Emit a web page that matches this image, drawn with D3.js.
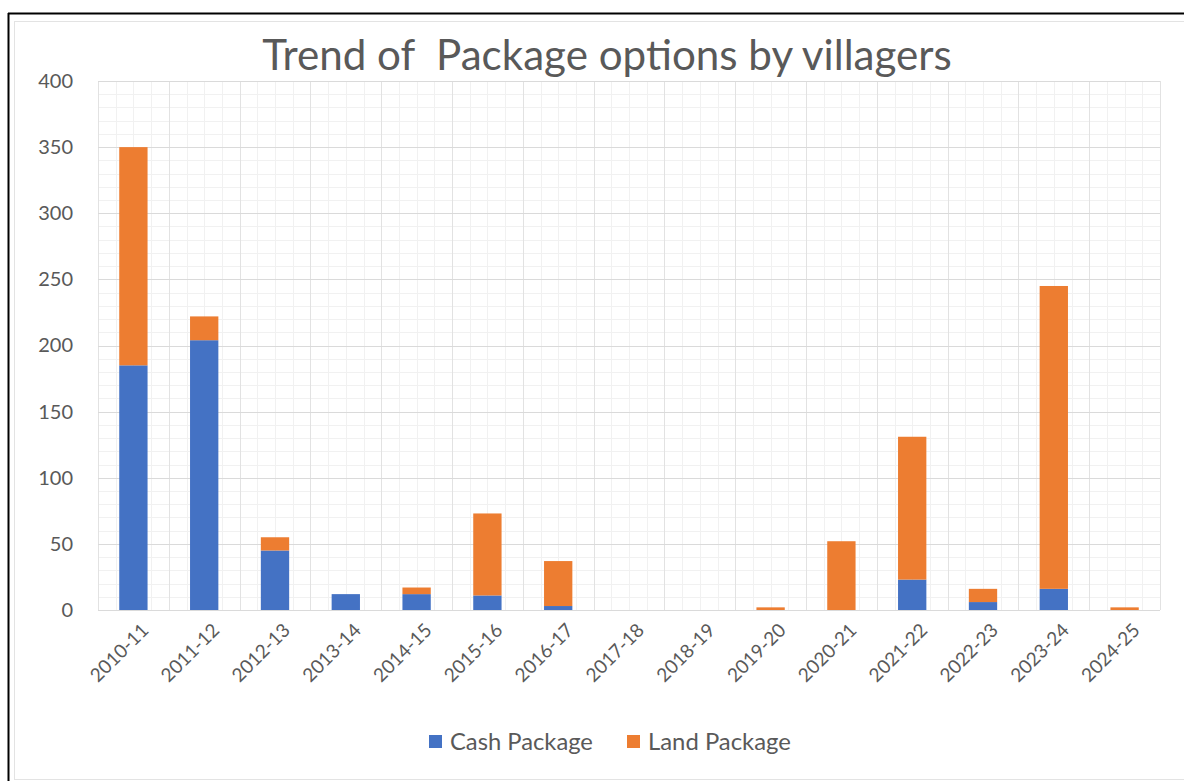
<!DOCTYPE html>
<html><head><meta charset="utf-8">
<script src="https://cdn.jsdelivr.net/npm/d3@7"></script>
<style>
html,body{margin:0;padding:0;background:#fff;}
svg{display:block;font-family:Lato,"Open Sans",sans-serif;}
</style></head>
<body>
<svg id="c" width="1184" height="781"></svg>
<script>
const categories = ["2010-11","2011-12","2012-13","2013-14","2014-15","2015-16","2016-17","2017-18","2018-19","2019-20","2020-21","2021-22","2022-23","2023-24","2024-25"];
const cashPackage = [185,204,45,12,12,11,3,0,0,0,0,23,6,16,0];
const landPackage = [165,18,10,0,5,62,34,0,0,2,52,108,10,229,2];
const yTicks = [0,50,100,150,200,250,300,350,400];
const seriesNames = ["Cash Package","Land Package"];
const seriesColors = ["#4472C4","#ED7D31"];
const titleText = "Trend of  Package options by villagers";

const svg = d3.select("#c");
svg.append("rect").attr("x",0).attr("y",0).attr("width",1184).attr("height",781).attr("fill","#fff");
svg.append("line").attr("x1",8.5).attr("x2",8.5).attr("y1",13).attr("y2",781).attr("stroke","#000").attr("stroke-width",2);
svg.append("line").attr("x1",8).attr("x2",1184).attr("y1",13.5).attr("y2",13.5).attr("stroke","#000").attr("stroke-width",2);
svg.append("rect").attr("x",14.5).attr("y",21.5).attr("width",1180).attr("height",758).attr("fill","none").attr("stroke","#e3e3e3").attr("stroke-width",1);

const m = {left:98, right:1160, top:81, bottom:610};
const x = d3.scaleBand().domain(categories).range([m.left,m.right]).paddingInner(0.6).paddingOuter(0.3);
const y = d3.scaleLinear().domain([0,400]).range([m.bottom,m.top]);

// grid
const g = svg.append("g");
const minor = d3.range(0,401,10);
g.selectAll("line.hmin").data(minor).join("line")
  .attr("x1",m.left).attr("x2",m.right).attr("y1",d=>Math.round(y(d))+0.5).attr("y2",d=>Math.round(y(d))+0.5)
  .attr("stroke","#f1f1f1").attr("stroke-width",1);
const colW = (m.right-m.left)/categories.length;
const vEdges = d3.range(0,categories.length+1).map(i=>m.left+i*colW);
const vMinor = [];
vEdges.forEach((v,i)=>{ if(i<categories.length){ for(let k=1;k<4;k++) vMinor.push(v+k*colW/4);} });
g.selectAll("line.vmin").data(vMinor).join("line")
  .attr("y1",m.top).attr("y2",m.bottom).attr("x1",d=>Math.round(d)+0.5).attr("x2",d=>Math.round(d)+0.5)
  .attr("stroke","#f1f1f1").attr("stroke-width",1);
g.selectAll("line.vmaj").data(vEdges).join("line")
  .attr("y1",m.top).attr("y2",m.bottom).attr("x1",d=>Math.round(d)+0.5).attr("x2",d=>Math.round(d)+0.5)
  .attr("stroke","#e2e2e2").attr("stroke-width",1);
g.selectAll("line.hmaj").data(yTicks).join("line")
  .attr("x1",m.left).attr("x2",m.right).attr("y1",d=>Math.round(y(d))+0.5).attr("y2",d=>Math.round(y(d))+0.5)
  .attr("stroke","#dadada").attr("stroke-width",1);

// stacked bars
const rows = categories.map((c,i)=>({cat:c, "Cash Package":cashPackage[i], "Land Package":landPackage[i]}));
const stack = d3.stack().keys(seriesNames)(rows);
svg.append("g").selectAll("g").data(stack).join("g")
  .attr("fill",(d,i)=>seriesColors[i])
  .selectAll("rect").data(d=>d).join("rect")
  .attr("x",d=>x(d.data.cat)).attr("width",x.bandwidth())
  .attr("y",d=>y(d[1])).attr("height",d=>Math.max(0,y(d[0])-y(d[1])));

// y axis
const yAxis = svg.append("g").attr("transform",`translate(${m.left-25},0)`)
  .call(d3.axisLeft(y).tickValues(yTicks).tickSize(0).tickPadding(0));
yAxis.select(".domain").remove();
yAxis.selectAll("text").attr("font-size",20).attr("fill","#595959").attr("font-family","Lato,sans-serif").attr("dy","0.32em");

// x axis
const xAxis = svg.append("g").attr("transform",`translate(0,${m.bottom})`)
  .call(d3.axisBottom(x).tickSize(0).tickPadding(0));
xAxis.select(".domain").remove();
xAxis.selectAll("text")
  .attr("font-size",19).attr("fill","#595959").attr("font-family","Lato,sans-serif")
  .attr("text-anchor","end")
  .attr("transform","translate(7,12) rotate(-45)")
  .attr("y",0).attr("dy","0.7em");

// title
const t = svg.append("text").attr("x",(262+952)/2).attr("y",70).attr("text-anchor","middle")
  .attr("font-size",34).attr("fill","#595959").attr("font-family","Lato,sans-serif").style("white-space","pre").attr("xml:space","preserve").text(titleText);
const tw = t.node().getComputedTextLength();
t.attr("font-size",34*690/tw);

// legend
const legX = [429,627];
const lg = svg.append("g");
seriesNames.forEach((s,i)=>{
  lg.append("rect").attr("x",legX[i]).attr("y",735).attr("width",13).attr("height",13).attr("fill",seriesColors[i]);
  const tx = lg.append("text").attr("x",legX[i]+21).attr("y",742).attr("dy","0.35em").attr("font-size",22).attr("fill","#595959")
    .attr("font-family","Lato,sans-serif").text(s);
  const w = tx.node().getComputedTextLength();
  tx.attr("font-size",22*143/w);
});
</script>
</body></html>
